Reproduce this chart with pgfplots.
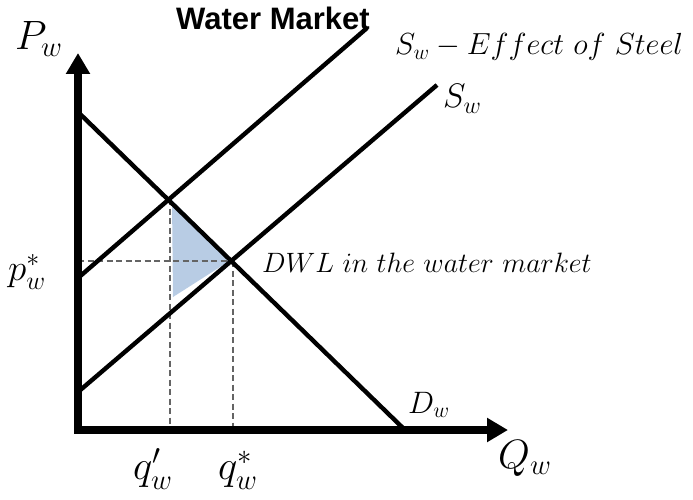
\RequirePackage{fix-cm}
\documentclass[border=0pt]{standalone}
\usepackage{fontspec}
\usepackage{pgfplots}
\pgfplotsset{compat=1.18}
\usetikzlibrary{arrows.meta}
\newfontfamily\arial{Liberation Sans}
\definecolor{dwl}{RGB}{184,204,228}
\definecolor{dashc}{RGB}{100,100,100}
\newcommand{\fs}[1]{\fontsize{#1}{#1}\selectfont}
\begin{document}
\begin{tikzpicture}
\path[use as bounding box] (0,0) rectangle (693pt,499pt);
\begin{axis}[at={(0,0)}, anchor=south west, x=1pt, y=1pt,
  xmin=0, xmax=693, ymin=0, ymax=499, hide axis, clip=false, no markers]
% DWL triangle
\addplot[fill=dwl, draw=none] coordinates {(172,299) (231,239) (173,202)} -- cycle;
% dashed guides
\addplot[dashc, line width=2pt, dash pattern=on 6pt off 3.5pt] coordinates {(78,238) (233,238)};
\addplot[dashc, line width=2pt, dash pattern=on 6pt off 3.5pt] coordinates {(170,300) (170,69)};
\addplot[dashc, line width=2pt, dash pattern=on 6pt off 3.5pt] coordinates {(233,238) (233,69)};
% demand
\addplot[black, line width=4.4pt] coordinates {(78,387) (405,69)};
% supply
\addplot[black, line width=4.4pt] coordinates {(78,107) (437,414)};
% shifted supply
\addplot[black, line width=4.4pt] coordinates {(78,221) (367,471)};
% axes
\addplot[black, line width=7.5pt, line join=miter,
  {Triangle[width=23pt,length=21pt]}-{Triangle[width=23pt,length=21pt]}]
  coordinates {(78,446) (78,69) (508,69)};
% labels
\node[anchor=base, inner sep=0] at (axis cs:273,469) {\arial\bfseries\fs{31}Water Market};
\node[anchor=base west, inner sep=0] at (axis cs:15,449) {\fs{41}$P_w$};
\node[anchor=base west, inner sep=0] at (axis cs:498,31) {\fs{41}$Q_w$};
\node[anchor=base west, inner sep=0] at (axis cs:133,20) {\fs{41}$q'_w$};
\node[anchor=base west, inner sep=0] at (axis cs:218,20) {\fs{41}$q^*_w$};
\node[anchor=base west, inner sep=0] at (axis cs:8,219) {\fs{37}$p^*_w$};
\node[anchor=base west, inner sep=0] at (axis cs:408,86) {\fs{31}$D_w$};
\node[anchor=base west, inner sep=0] at (axis cs:443,391) {\fs{34}$S_w$};
\node[anchor=base west, inner sep=0] at (axis cs:395,444) {\fs{30.5}$S_w - Effect\ of\ Steel$};
\node[anchor=base west, inner sep=0] at (axis cs:262,227) {\fs{28}$DWL\ in\ the\ water\ market$};
\end{axis}
\end{tikzpicture}
\end{document}
